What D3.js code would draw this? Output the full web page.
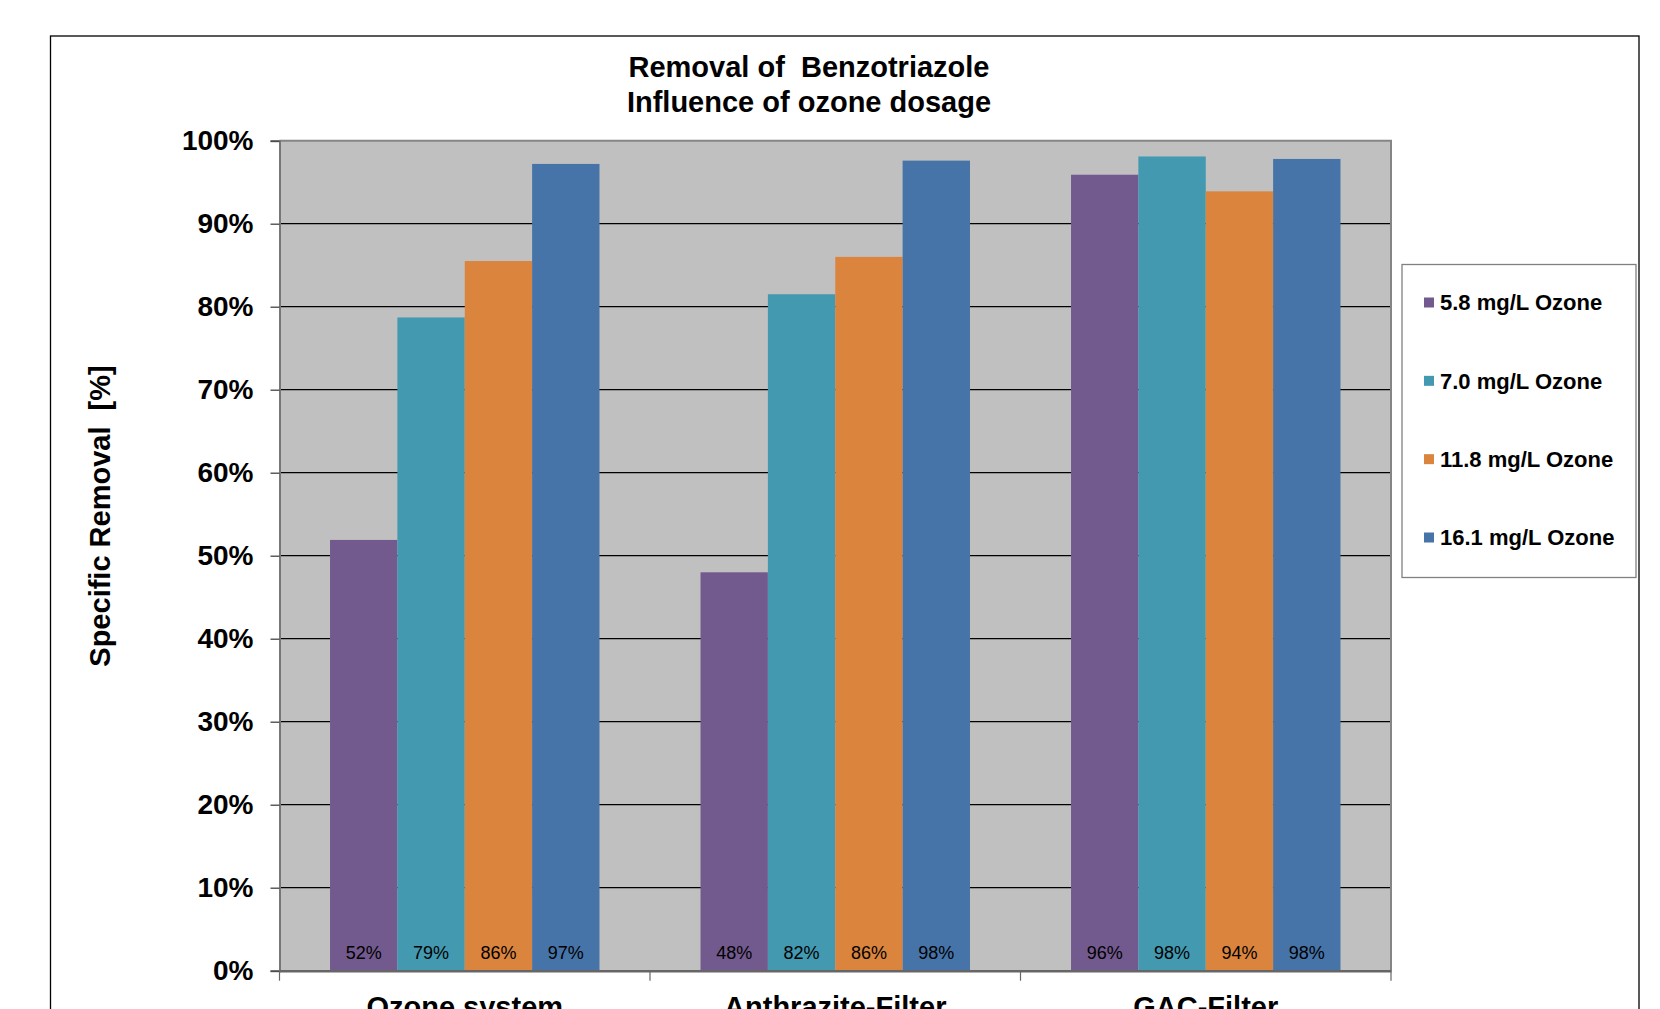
<!DOCTYPE html>
<html>
<head>
<meta charset="utf-8">
<script src="https://cdn.jsdelivr.net/npm/d3@7"></script>
<style>
  html, body { margin: 0; padding: 0; background: #fff; }
  svg { display: block; font-family: "Liberation Sans", Arial, sans-serif; }
  svg text { white-space: pre; }
</style>
</head>
<body>
<svg id="chart" width="1660" height="1009"></svg>
<script>
const categories = ["Ozone system", "Anthrazite-Filter", "GAC-Filter"];
const seriesNames = ["5.8 mg/L Ozone", "7.0 mg/L Ozone", "11.8 mg/L Ozone", "16.1 mg/L Ozone"];
const seriesColors = ["#725A8E", "#4299B0", "#DB843D", "#4674A8"];
const values5_8 = [0.519, 0.480, 0.959];
const values7_0 = [0.787, 0.815, 0.981];
const values11_8 = [0.855, 0.860, 0.939];
const values16_1 = [0.972, 0.976, 0.978];
const seriesValues = [values5_8, values7_0, values11_8, values16_1];
const barLabels = [
  ["52%", "48%", "96%"],
  ["79%", "82%", "98%"],
  ["86%", "86%", "94%"],
  ["97%", "98%", "98%"]
];
const yTicks = [0, 0.1, 0.2, 0.3, 0.4, 0.5, 0.6, 0.7, 0.8, 0.9, 1.0];
const titleLines = ["Removal of  Benzotriazole", "Influence of ozone dosage"];
const yAxisTitle = "Specific Removal  [%]";

const svg = d3.select("#chart");
const plot = { left: 279.5, right: 1391, top: 140.7, bottom: 970.7 };

// outer chart border
svg.append("rect")
  .attr("x", 50.5).attr("y", 36).attr("width", 1588.5).attr("height", 1100)
  .attr("fill", "#fff").attr("stroke", "#000").attr("stroke-width", 1.3);

const x0 = d3.scaleBand().domain(categories).range([plot.left, plot.right]).padding(0);
const x1 = d3.scaleBand().domain(d3.range(seriesNames.length))
  .range([0, x0.bandwidth()]).paddingInner(0).paddingOuter(0.75);
const y = d3.scaleLinear().domain([0, 1]).range([plot.bottom, plot.top]);

// plot background
svg.append("rect")
  .attr("x", plot.left).attr("y", plot.top)
  .attr("width", plot.right - plot.left).attr("height", plot.bottom - plot.top)
  .attr("fill", "#C0C0C0");

// gridlines
svg.append("g").selectAll("line")
  .data(yTicks.filter(t => t > 0 && t < 1))
  .join("line")
  .attr("x1", plot.left).attr("x2", plot.right)
  .attr("y1", d => y(d)).attr("y2", d => y(d))
  .attr("stroke", "#000").attr("stroke-width", 1.2);

// plot border (top, right)
svg.append("path")
  .attr("d", `M${plot.left},${plot.top}H${plot.right}V${plot.bottom}`)
  .attr("fill", "none").attr("stroke", "#858585").attr("stroke-width", 2);

// bars
const groups = svg.append("g").selectAll("g")
  .data(seriesValues)
  .join("g")
  .attr("fill", (d, i) => seriesColors[i]);

groups.each(function(vals, si) {
  d3.select(this).selectAll("rect")
    .data(vals)
    .join("rect")
    .attr("x", (v, ci) => x0(categories[ci]) + x1(si))
    .attr("width", x1.bandwidth())
    .attr("y", v => y(v))
    .attr("height", v => y(0) - y(v));
  d3.select(this).selectAll("text")
    .data(vals)
    .join("text")
    .attr("x", (v, ci) => x0(categories[ci]) + x1(si) + x1.bandwidth() / 2)
    .attr("y", 959)
    .attr("text-anchor", "middle")
    .attr("fill", "#000")
    .attr("font-size", 18)
    .text((v, ci) => barLabels[si][ci]);
});

// y axis
const yAxis = d3.axisLeft(y).tickValues(yTicks).tickSize(9).tickPadding(17)
  .tickFormat(d3.format(".0%"));
const yg = svg.append("g").attr("transform", `translate(${plot.left},0)`).call(yAxis);
yg.select(".domain").attr("stroke", "#777").attr("stroke-width", 2);
yg.selectAll(".tick line").attr("stroke", "#444").attr("stroke-width", 1.3);
yg.selectAll(".tick text")
  .attr("font-family", "'Liberation Sans', Arial, sans-serif")
  .attr("font-size", 28).attr("font-weight", "bold").attr("fill", "#000");

// x axis
const xAxis = d3.axisBottom(x0).tickSize(0).tickPadding(0).tickFormat("");
const xg = svg.append("g").attr("transform", `translate(0,${plot.bottom})`).call(xAxis);
xg.select(".domain").attr("stroke", "#666").attr("stroke-width", 2.5);
xg.selectAll(".tick").remove();
const bounds = [plot.left].concat(categories.map(c => x0(c) + x0.bandwidth()));
xg.selectAll("line.sep").data(bounds).join("line")
  .attr("class", "sep")
  .attr("x1", d => d).attr("x2", d => d).attr("y1", 0).attr("y2", 10)
  .attr("stroke", "#666").attr("stroke-width", 1.2);
xg.selectAll("text.cat").data(categories).join("text")
  .attr("class", "cat")
  .attr("x", d => x0(d) + x0.bandwidth() / 2)
  .attr("y", 46)
  .attr("text-anchor", "middle")
  .attr("font-size", 29).attr("font-weight", "bold").attr("fill", "#000")
  .text(d => d);

// title
svg.append("g").selectAll("text").data(titleLines).join("text")
  .attr("x", 809).attr("y", (d, i) => 77 + i * 34.5)
  .attr("text-anchor", "middle")
  .attr("font-size", 29).attr("font-weight", "bold").attr("fill", "#000")
  .text(d => d);

// y axis title
svg.append("text")
  .attr("transform", "translate(110,516) rotate(-90)")
  .attr("text-anchor", "middle")
  .attr("font-size", 29).attr("font-weight", "bold").attr("fill", "#000")
  .text(yAxisTitle);

// legend
const legend = svg.append("g");
legend.append("rect")
  .attr("x", 1402).attr("y", 264.5).attr("width", 234).attr("height", 313)
  .attr("fill", "#fff").attr("stroke", "#808080").attr("stroke-width", 1.3);
const legendY = d3.scalePoint().domain(seriesNames).range([302.5, 537.5]);
const items = legend.selectAll("g.item").data(seriesNames).join("g")
  .attr("class", "item")
  .attr("transform", d => `translate(0,${legendY(d)})`);
items.append("rect")
  .attr("x", 1424).attr("y", -5).attr("width", 10).attr("height", 10)
  .attr("fill", (d, i) => seriesColors[i]);
items.append("text")
  .attr("x", 1440).attr("y", 0).attr("dy", "0.36em")
  .attr("font-size", 22).attr("font-weight", "bold").attr("fill", "#000")
  .text(d => d);
</script>
</body>
</html>
